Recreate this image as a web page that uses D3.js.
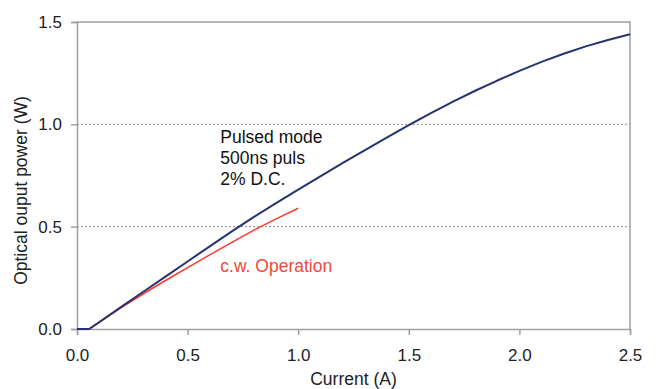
<!DOCTYPE html>
<html>
<head>
<meta charset="utf-8">
<script src="https://cdn.jsdelivr.net/npm/d3@7/dist/d3.min.js"></script>
<style>
  html, body { margin: 0; padding: 0; background: #fff; }
  svg { display: block; font-family: "Liberation Sans", Arial, sans-serif; }
</style>
</head>
<body>
<svg id="chart" width="656" height="389"></svg>
<script>
// Pulsed-mode output (500 ns pulses, 2% duty cycle)
const pulsedCurrent = [0, 0.055, 0.1, 0.2, 0.3, 0.4, 0.5, 0.6, 0.7, 0.8, 0.9, 1.0, 1.1, 1.2, 1.3, 1.4, 1.5, 1.6, 1.7, 1.8, 1.9, 2.0, 2.1, 2.2, 2.3, 2.4, 2.5];
const pulsedPower   = [0, 0, 0.033, 0.108, 0.182, 0.256, 0.33, 0.404, 0.477, 0.548, 0.615, 0.681, 0.746, 0.81, 0.873, 0.935, 0.996, 1.055, 1.111, 1.164, 1.214, 1.261, 1.305, 1.345, 1.381, 1.412, 1.44];

// Continuous-wave output
const cwCurrent = [0, 0.055, 0.1, 0.2, 0.3, 0.4, 0.5, 0.6, 0.7, 0.8, 0.9, 1.0];
const cwPower   = [0, 0, 0.033, 0.105, 0.172, 0.237, 0.30, 0.362, 0.423, 0.483, 0.538, 0.59];

const xTicks = [0, 0.5, 1.0, 1.5, 2.0, 2.5];
const yTicks = [0, 0.5, 1.0, 1.5];
const gridLevels = [0.5, 1.0];

const svg = d3.select("#chart");
const plot = { left: 77, right: 630, top: 22, bottom: 329 };

const x = d3.scaleLinear().domain([0, 2.5]).range([plot.left, plot.right]);
const y = d3.scaleLinear().domain([0, 1.5]).range([plot.bottom, plot.top]);

const axisColor = "#a0a0a0";

// dotted horizontal gridlines
svg.append("g").selectAll("line").data(gridLevels).join("line")
  .attr("x1", plot.left).attr("x2", plot.right)
  .attr("y1", d => y(d)).attr("y2", d => y(d))
  .attr("stroke", "#8a8a8a").attr("stroke-width", 1)
  .attr("stroke-dasharray", "2,2");

// frame: top and right edges
svg.append("path")
  .attr("d", `M${plot.left},${plot.top}H${plot.right}V${plot.bottom}`)
  .attr("fill", "none").attr("stroke", axisColor).attr("stroke-width", 1.5);

const fmt = d3.format(".1f");

const xAxis = svg.append("g")
  .attr("transform", `translate(0,${plot.bottom})`)
  .call(d3.axisBottom(x).tickValues(xTicks).tickFormat(fmt).tickSize(6).tickPadding(14));
const yAxis = svg.append("g")
  .attr("transform", `translate(${plot.left},0)`)
  .call(d3.axisLeft(y).tickValues(yTicks).tickFormat(fmt).tickSize(6).tickPadding(9));

[xAxis, yAxis].forEach(g => {
  g.select(".domain").attr("stroke", axisColor).attr("stroke-width", 1.5);
  g.selectAll(".tick line").attr("stroke", axisColor).attr("stroke-width", 1.5);
  g.selectAll(".tick text").attr("fill", "#222").attr("font-size", 17)
    .attr("font-family", "Liberation Sans, Arial, sans-serif");
});

const line = d3.line().x(d => x(d[0])).y(d => y(d[1]));

svg.append("path")
  .datum(cwCurrent.map((c, i) => [c, cwPower[i]]))
  .attr("d", line)
  .attr("fill", "none").attr("stroke", "#ff3b30").attr("stroke-width", 1.6)
  .attr("stroke-linejoin", "round");

svg.append("path")
  .datum(pulsedCurrent.map((c, i) => [c, pulsedPower[i]]))
  .attr("d", line)
  .attr("fill", "none").attr("stroke", "#26336e").attr("stroke-width", 2)
  .attr("stroke-linejoin", "round");

// annotations
const note = svg.append("text").attr("font-size", 17.5).attr("fill", "#111");
["Pulsed mode", "500ns puls", "2% D.C."].forEach((t, i) => {
  note.append("tspan").attr("x", x(0.648)).attr("y", 143 + i * 21).text(t);
});
svg.append("text")
  .attr("x", x(0.648)).attr("y", 272)
  .attr("font-size", 17.5).attr("fill", "#f2483a")
  .text("c.w. Operation");

// axis titles
svg.append("text")
  .attr("x", (plot.left + plot.right) / 2).attr("y", 385)
  .attr("text-anchor", "middle").attr("font-size", 17.5).attr("fill", "#222")
  .text("Current (A)");
svg.append("text")
  .attr("transform", `translate(27,${(plot.top + plot.bottom) / 2 + 15}) rotate(-90)`)
  .attr("text-anchor", "middle").attr("font-size", 17.5).attr("fill", "#222")
  .text("Optical ouput power (W)");
</script>
</body>
</html>
